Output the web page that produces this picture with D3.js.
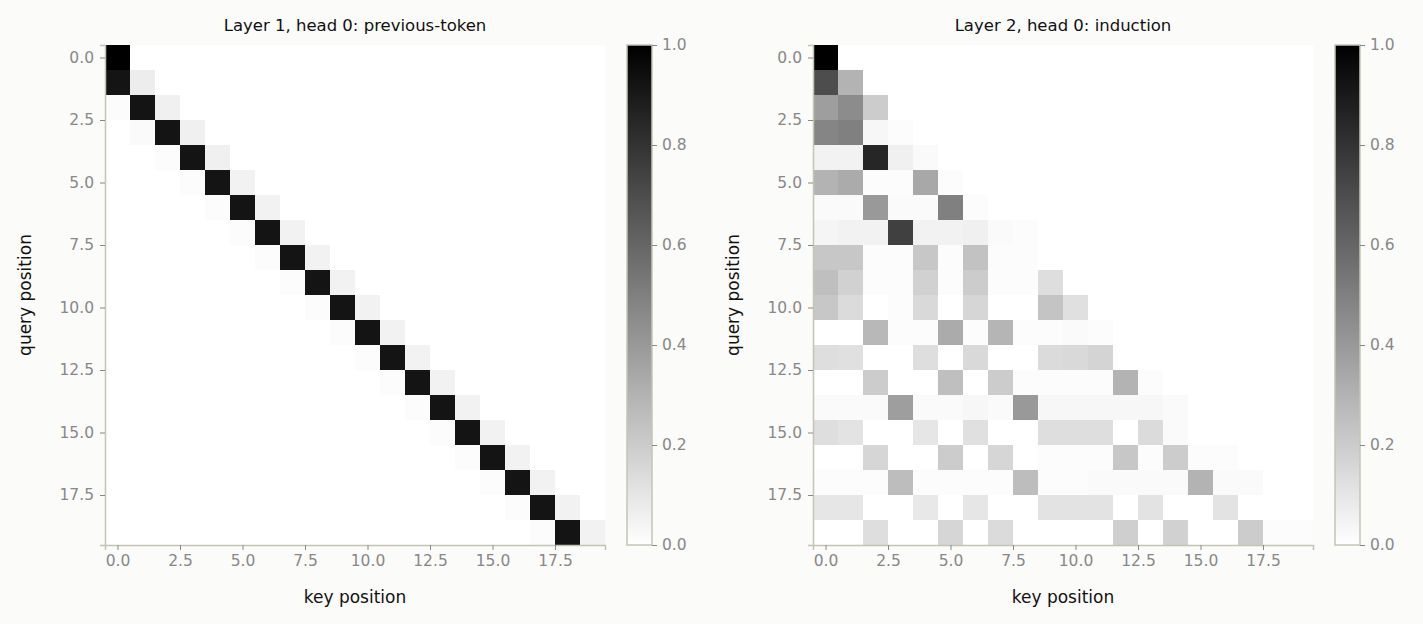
<!DOCTYPE html><html><head><meta charset="utf-8">
<script src="https://cdn.jsdelivr.net/npm/d3@7"></script>
<style>body{margin:0;background:#fbfbf9;font-family:"DejaVu Sans",sans-serif}</style></head><body>
<svg id="c" width="1423" height="624"></svg>
<script>
const titles=["Layer 1, head 0: previous-token","Layer 2, head 0: induction"];
const ticks=[0,2.5,5,7.5,10,12.5,15,17.5];
const cbTicks=[0,0.2,0.4,0.6,0.8,1.0];
// layer 1: weight on previous token, self, and two-back per query row
const prevW=[0,0.92,0.92,0.92,0.92,0.92,0.92,0.92,0.92,0.92,0.92,0.92,0.92,0.92,0.92,0.92,0.92,0.92,0.92,0.92];
const selfW=[1.0,0.07,0.06,0.06,0.06,0.05,0.05,0.05,0.05,0.05,0.05,0.05,0.05,0.05,0.05,0.05,0.05,0.05,0.05,0.05];
const twoBackW=[0,0,0.01,0.02,0.01,0.01,0.01,0.01,0.01,0.01,0.01,0.01,0.01,0.01,0.01,0.01,0.01,0.01,0.01,0.01];
// layer 2 induction rows
const induction=[
[1.0],
[0.7,0.3],
[0.38,0.45,0.2],
[0.48,0.5,0.03,0.01],
[0.05,0.05,0.85,0.06,0.02],
[0.3,0.33,0.01,0.01,0.34,0.01],
[0.02,0.02,0.4,0.02,0.02,0.5,0.01],
[0.04,0.05,0.05,0.75,0.05,0.05,0.06,0.02,0.01],
[0.22,0.22,0.01,0.01,0.22,0.01,0.24,0.01,0.01,0],
[0.25,0.18,0.01,0.01,0.18,0.01,0.2,0.01,0.01,0.13,0],
[0.22,0.14,0,0.01,0.15,0,0.16,0,0,0.23,0.12],
[0,0,0.28,0.01,0.01,0.33,0.01,0.29,0.01,0.01,0.02,0.01],
[0.13,0.12,0,0,0.13,0,0.15,0,0,0.14,0.15,0.17],
[0,0,0.2,0,0,0.25,0,0.2,0.01,0.01,0.01,0.01,0.3,0.01],
[0.02,0.02,0.02,0.38,0.02,0.02,0.03,0.02,0.4,0.03,0.03,0.03,0.03,0.03,0.02],
[0.13,0.11,0,0,0.1,0,0.12,0,0,0.13,0.13,0.13,0,0.14,0.02],
[0,0,0.16,0,0,0.2,0,0.16,0,0.01,0.01,0.01,0.22,0.01,0.2,0.01,0.01],
[0.01,0.01,0.01,0.26,0.01,0.01,0.01,0.01,0.26,0.01,0.01,0.02,0.02,0.02,0.02,0.3,0.02,0.02],
[0.1,0.1,0,0,0.09,0,0.1,0,0,0.11,0.11,0.11,0,0.11,0,0,0.11,0,0],
[0,0,0.13,0,0,0.16,0,0.14,0,0,0,0,0.19,0,0.18,0,0,0.2,0.01,0.01]];
const N=20;
const prevMat=d3.range(N).map(i=>d3.range(N).map(j=>j===i?selfW[i]:j===i-1?prevW[i]:j===i-2?twoBackW[i]:0));
const indMat=induction.map(r=>d3.range(N).map(j=>r[j]||0));
const mats=[prevMat,indMat];
const svg=d3.select("#c");
const color=d3.scaleLinear().domain([0,1]).range(["#ffffff","#000000"]);
const spine="#c4c4b4",tc="#888";
const lefts=[105,813];
mats.forEach((m,k)=>{
  const x0=lefts[k],y0=45,S=500;
  const x=d3.scaleLinear().domain([-0.5,19.5]).range([x0,x0+S]);
  const y=d3.scaleLinear().domain([-0.5,19.5]).range([y0,y0+S]);
  const g=svg.append("g");
  g.append("rect").attr("x",x0).attr("y",y0).attr("width",S).attr("height",S).attr("fill","#fff");
  m.forEach((row,i)=>row.forEach((v,j)=>{
    g.append("rect").attr("x",x(j-0.5)).attr("y",y(i-0.5)).attr("width",x(j+0.5)-x(j-0.5)+0.3).attr("height",y(i+0.5)-y(i-0.5)+0.3).attr("fill",color(v));
  }));
  const ax=g.append("g").attr("transform",`translate(0,${y0+S})`).call(d3.axisBottom(x).tickValues(ticks).tickFormat(d3.format(".1f")).tickSize(5).tickPadding(5));
  const ay=g.append("g").attr("transform",`translate(${x0},0)`).call(d3.axisLeft(y).tickValues(ticks).tickFormat(d3.format(".1f")).tickSize(5).tickPadding(6));
  [ax,ay].forEach(a=>{a.select(".domain").attr("stroke",spine).attr("stroke-width",1.5);a.selectAll("line").attr("stroke",tc);a.selectAll("text").attr("fill",tc).attr("font-size",15.5).attr("font-family","DejaVu Sans");});
  g.append("text").attr("x",x0+S/2).attr("y",31).attr("text-anchor","middle").attr("font-size",16.5).attr("fill","#111").text(titles[k]);
  g.append("text").attr("x",x0+S/2).attr("y",603).attr("text-anchor","middle").attr("font-size",17).attr("fill","#111").text("key position");
  g.append("text").attr("transform",`translate(${x0-80},${y0+S/2}) rotate(-90)`).attr("dy","0.35em").attr("text-anchor","middle").attr("font-size",17).attr("fill","#111").text("query position");
  const cx=x0+522,cw=25;
  const cy=d3.scaleLinear().domain([0,1]).range([y0+S,y0]);
  const gid="grad"+k;
  const grad=svg.append("defs").append("linearGradient").attr("id",gid).attr("x1",0).attr("y1",1).attr("x2",0).attr("y2",0);
  grad.append("stop").attr("offset",0).attr("stop-color","#fff");
  grad.append("stop").attr("offset",1).attr("stop-color","#000");
  g.append("rect").attr("x",cx).attr("y",y0).attr("width",cw).attr("height",S).attr("fill",`url(#${gid})`).attr("stroke",spine).attr("stroke-width",1.5);
  const ac=g.append("g").attr("transform",`translate(${cx+cw},0)`).call(d3.axisRight(cy).tickValues(cbTicks).tickFormat(d3.format(".1f")).tickSize(5).tickPadding(5));
  ac.select(".domain").remove();ac.selectAll("line").attr("stroke",tc);ac.selectAll("text").attr("fill",tc).attr("font-size",15.5).attr("font-family","DejaVu Sans");
});
</script></body></html>
